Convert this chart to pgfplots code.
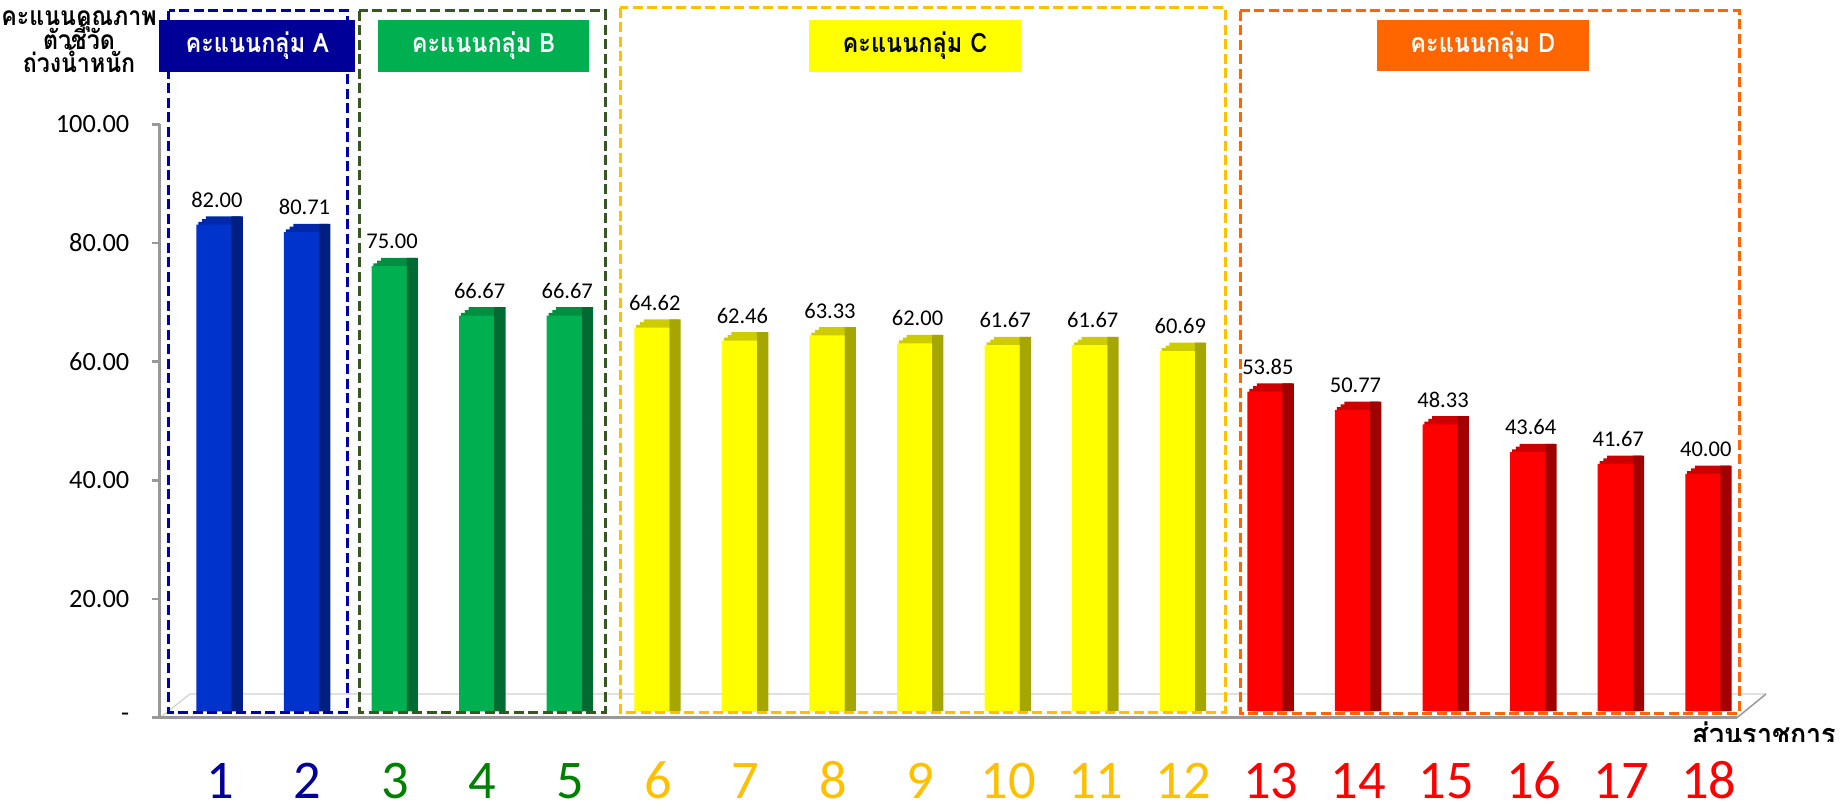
\documentclass[border=0pt]{standalone}
\usepackage{fontspec}
\setmainfont{Carlito}
\newfontfamily\thai[Script=Thai, FakeStretch=0.88]{Loma}
\usepackage{pgfplots}
\usepackage{pgfplotstable}
\pgfplotsset{compat=1.18}

\definecolor{fA}{HTML}{0033CC}\definecolor{sA}{HTML}{001F80}\definecolor{tA}{HTML}{0028A8}
\definecolor{fB}{HTML}{00B050}\definecolor{sB}{HTML}{006B30}\definecolor{tB}{HTML}{008F40}
\definecolor{fC}{HTML}{FFFF00}\definecolor{sC}{HTML}{A6A600}\definecolor{tC}{HTML}{CCCC00}
\definecolor{fD}{HTML}{FF0000}\definecolor{sD}{HTML}{A00000}\definecolor{tD}{HTML}{CC0000}
\definecolor{hA}{HTML}{000099}\definecolor{hB}{HTML}{00B050}\definecolor{hC}{HTML}{FFFF00}\definecolor{hD}{HTML}{FF6600}
\definecolor{dA}{HTML}{0000A8}\definecolor{dB}{HTML}{375623}\definecolor{dC}{HTML}{FFC000}\definecolor{dD}{HTML}{FF6600}
\definecolor{nA}{HTML}{000099}\definecolor{nB}{HTML}{008000}\definecolor{nC}{HTML}{FFC000}\definecolor{nD}{HTML}{FF0000}

\pgfplotstableread{
x v
1 82.00
2 80.71
}\dataA
\pgfplotstableread{
x v
3 75.00
4 66.67
5 66.67
}\dataB
\pgfplotstableread{
x v
6 64.62
7 62.46
8 63.33
9 62.00
10 61.67
11 61.67
12 60.69
}\dataC
\pgfplotstableread{
x v
13 53.85
14 50.77
15 48.33
16 43.64
17 41.67
18 40.00
}\dataD

% 3D-looking bar group: top face (staircase), side face, front face with value label
\newcommand\drawgroup[4]{%
  \addplot[ybar, bar width=0.4, bar shift=0.108, fill=#4, draw=none] table[x=x, y expr=\thisrow{v}+1.4] {#1};
  \addplot[ybar, bar width=0.4, bar shift=0.065, fill=#4, draw=none] table[x=x, y expr=\thisrow{v}+0.93] {#1};
  \addplot[ybar, bar width=0.4, bar shift=0.022, fill=#4, draw=none] table[x=x, y expr=\thisrow{v}+0.47] {#1};
  \addplot[ybar, bar width=0.13, bar shift=0.265, fill=#3, draw=none] table[x=x, y expr=\thisrow{v}+1.4] {#1};
  \addplot[ybar, bar width=0.4, bar shift=0, fill=#2, draw=none,
    nodes near coords={\pgfmathprintnumber[fixed, fixed zerofill, precision=2, assume math mode=true]{\pgfplotspointmeta}},
    every node near coord/.append style={font=\fontsize{6.4}{7.5}\selectfont, text=black, anchor=base, yshift=1.73mm, xshift=0.3mm, inner sep=0pt}]
    table[x=x, y=v] {#1};
}

\begin{document}
\begin{tikzpicture}
\begin{scope}[x=0.1mm, y=-0.1mm, shift={(-16mm,71.77mm)}]
  \useasboundingbox (0,0) rectangle (1845,807);
  % floor outline
  \draw[black!18, line width=0.12mm] (160,717.7) -- (190,694) -- (1766,694);
  \draw[black!40, line width=0.15mm] (1766,694) -- (1737,717.7);
\end{scope}

\begin{axis}[
  at={(0,0)}, anchor=south west,
  scale only axis, width=157.7mm, height=59.34mm,
  xmin=0.3845, xmax=18.39, ymin=0, ymax=100,
  axis lines*=left,
  axis line style={draw=black!40, line width=0.3mm},
  ytick={0,20,40,60,80,100},
  yticklabels={-\hspace{1.3mm},20.00,40.00,60.00,80.00,100.00},
  tick align=outside, major tick length=0.75mm,
  ytick style={draw=black!40, line width=0.25mm},
  yticklabel style={font=\fontsize{7.5}{9}\selectfont, anchor=east, inner sep=0pt, xshift=-2.25mm},
  xtick={1,...,18}, xtick style={draw=none},
  xticklabels={\textcolor{nA}{1},\textcolor{nA}{2},\textcolor{nB}{3},\textcolor{nB}{4},\textcolor{nB}{5},
    \textcolor{nC}{6},\textcolor{nC}{7},\textcolor{nC}{8},\textcolor{nC}{9},\textcolor{nC}{10},\textcolor{nC}{11},\textcolor{nC}{12},
    \textcolor{nD}{13},\textcolor{nD}{14},\textcolor{nD}{15},\textcolor{nD}{16},\textcolor{nD}{17},\textcolor{nD}{18}},
  xticklabel style={font=\fontsize{15.5}{18}\selectfont, anchor=base, inner sep=0pt, xshift=0.6mm, yshift=-7.3mm},
  clip=false,
]
\end{axis}

\begin{axis}[
  at={(0,0)}, anchor=south west,
  scale only axis, width=157.7mm, height=59.34mm,
  xmin=0.3845, xmax=18.39, ymin=-1.1, ymax=98.9,
  hide axis, clip=false,
]
  \drawgroup{\dataA}{fA}{sA}{tA}
  \drawgroup{\dataB}{fB}{sB}{tB}
  \drawgroup{\dataC}{fC}{sC}{tC}
  \drawgroup{\dataD}{fD}{sD}{tD}
\end{axis}

\begin{scope}[x=0.1mm, y=-0.1mm, shift={(-16mm,71.77mm)}]
  % group frames
  \draw[dA, line width=0.3mm, dash pattern=on 1mm off 0.45mm] (169,11) rectangle (348,712);
  \draw[dB, line width=0.3mm, dash pattern=on 1mm off 0.45mm] (359.5,11) rectangle (605,712);
  \draw[dC, line width=0.3mm, dash pattern=on 1mm off 0.45mm] (620,8) rectangle (1225,712);
  \draw[dD, line width=0.3mm, dash pattern=on 1mm off 0.45mm] (1240,11) rectangle (1739,713);
  % group headers
  \tikzset{hdr/.style={minimum height=5.2mm, inner sep=0pt, font=\thai\bfseries\fontsize{7.6}{9}\selectfont}}
  \node[hdr, fill=hA, text=white, minimum width=19.65mm] at (257.25,46) {คะแนนกลุ่ม A};
  \node[hdr, fill=hB, text=white, minimum width=21.1mm] at (483.5,46) {คะแนนกลุ่ม B};
  \node[hdr, fill=hC, text=black, minimum width=21.2mm] at (915,46) {คะแนนกลุ่ม C};
  \node[hdr, fill=hD, text=white, minimum width=21.2mm] at (1482.7,45.5) {คะแนนกลุ่ม D};
  % y-axis title
  \tikzset{ylab/.style={anchor=base, inner sep=0pt, font=\thai\bfseries\fontsize{7.5}{9}\selectfont}}
  \node[ylab] at (79,25) {คะแนนคุณภาพ};
  \node[ylab] at (79,50) {ตัวชี้วัด};
  \node[ylab] at (79,72) {ถ่วงน้ำหนัก};
  % x-axis title (cut off at the bottom as in the original)
  \begin{scope}
    \clip (1680,700) rectangle (1845,741);
    \node[anchor=base west, inner sep=0pt, font=\thai\bfseries\fontsize{8.7}{10}\selectfont] at (1692,745) {ส่วนราชการ};
  \end{scope}
\end{scope}
\end{tikzpicture}
\end{document}
